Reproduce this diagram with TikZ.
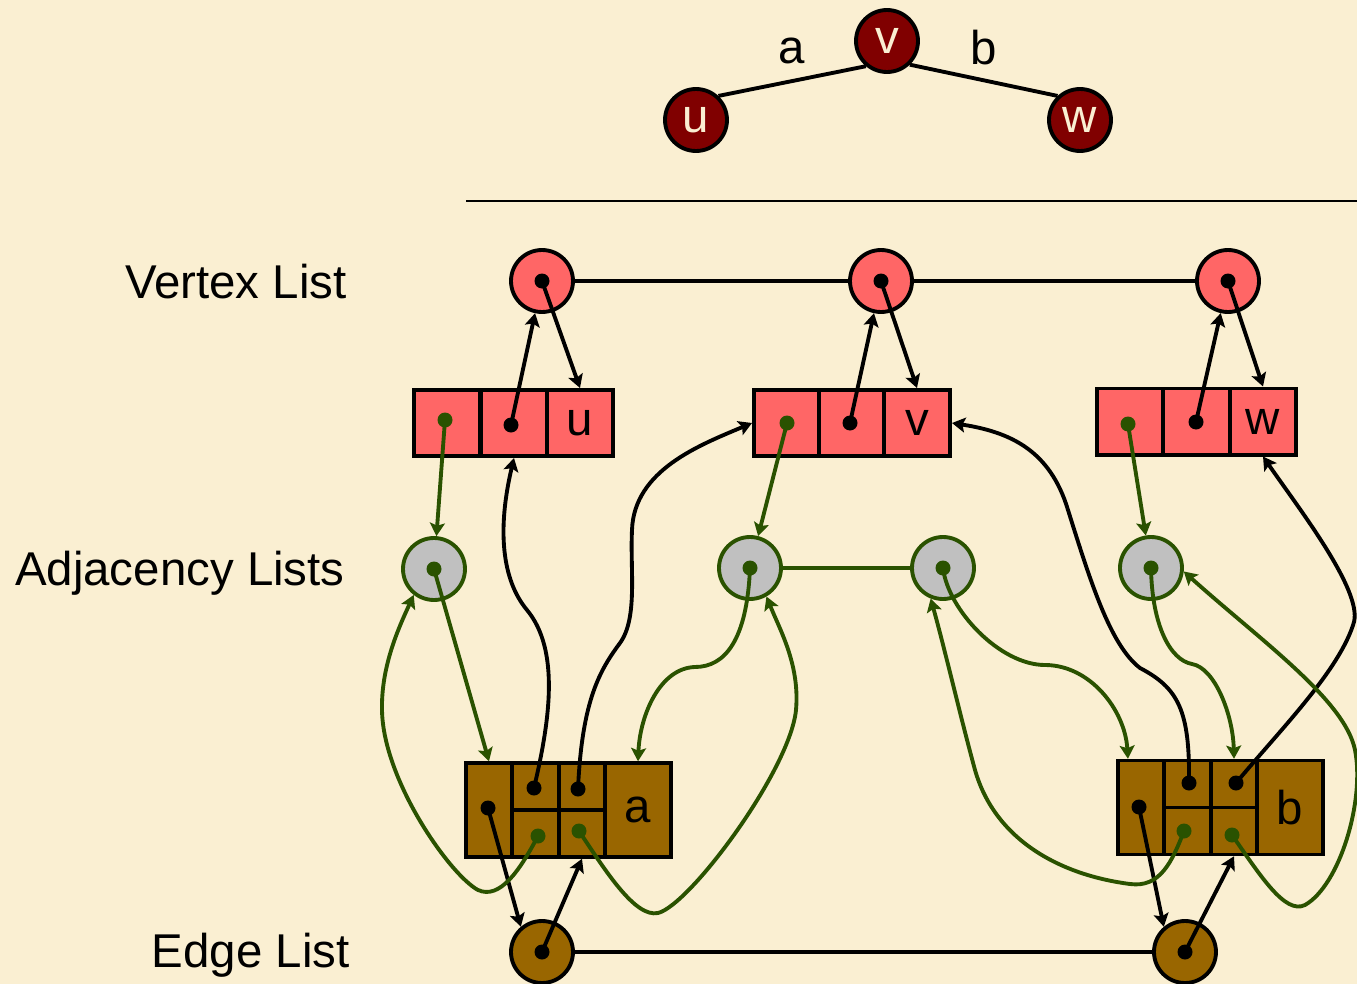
\documentclass[tikz,border=0pt]{standalone}
\usepackage{fontspec}
\setmainfont{Liberation Sans}
\usepackage{xcolor}
\definecolor{BgCream}   {RGB}{250, 239, 210}
\definecolor{VertexRed} {RGB}{255, 102, 102}
\definecolor{DarkRed}   {RGB}{128,   0,   0}
\definecolor{EdgeBrown} {RGB}{153, 102,   0}
\definecolor{AdjGray}   {RGB}{192, 192, 192}
\definecolor{ListGreen} {RGB}{ 42,  82,   0}
\usepackage{tikz}
\usetikzlibrary{arrows.meta}

\begin{document}
\begin{tikzpicture}[
  x=0.02cm, y=-0.02cm,
  font=\fontsize{27}{32}\selectfont,
  gnode/.style={
    circle, draw, line width=2.2pt,
    fill=DarkRed, text=BgCream,
    minimum size=1.24cm, inner sep=0pt},
  vnode/.style={
    circle, draw, line width=2.2pt,
    fill=VertexRed,
    minimum size=1.24cm, inner sep=0pt},
  anode/.style={vnode,
    draw=ListGreen, fill=AdjGray},
  enode/.style={vnode, fill=EdgeBrown},
  vcell/.style={
    draw, line width=2pt, fill=VertexRed,
    minimum width=1.33cm, minimum height=1.33cm,
    inner sep=0pt},
  ecell/.style={
    draw, line width=2pt, fill=EdgeBrown,
    minimum width=0.93cm, minimum height=0.94cm,
    inner sep=0pt},
  etall/.style={ecell, minimum height=1.88cm},
  ename/.style={etall, minimum width=1.32cm},
  bdot/.style={
    circle, fill=black,
    minimum size=0.3cm, inner sep=0pt},
  gdot/.style={bdot, fill=ListGreen},
  title/.style={anchor=base east, inner sep=0pt},
  link/.style={line width=2.2pt},
  ptr/.style={
    -{Stealth[length=7.5pt,width=8.5pt,inset=1.5pt]},
    line width=2.2pt},
  gptr/.style={ptr, ListGreen}
]

\fill[BgCream] (0,0) rectangle (1357,984);
\useasboundingbox (0,0) rectangle (1357,984);

\node[gnode] (tu) at (696,120) {u};
\node[gnode] (tv) at (887,41) {\raisebox{-3pt}{v}};
\node[gnode] (tw) at (1080,120) {w};
\draw[link] (tu.47) -- (tv.230);
\draw[link] (tv.-46) -- (tw.133);
\node (ta) at (792,51) {a};
\node (tb) at (984,48) {b};

\draw[line width=1.2pt] (466,201) -- (1357,201);

\node[title] (tvl) at (347,298) {Vertex List};
\node[title] (tal) at (345,585) {Adjacency Lists};
\node[title] (tel) at (350,967) {Edge List};

\node[vnode] (vu) at (542,281) {};
\node[vnode] (vv) at (881,281) {};
\node[vnode] (vw) at (1228,281) {};
\draw[link] (vu) -- (vv) -- (vw);
\node[bdot] (cu) at (vu) {};
\node[bdot] (cv) at (vv) {};
\node[bdot] (cw) at (vw) {};

\node[vcell] (ru1) at (447,423) {};
\node[vcell] (ru2) at (514,423) {};
\node[vcell] (ru3) at (580,423) {u};
\node[vcell] (rv1) at (787,423) {};
\node[vcell] (rv2) at (852,423) {};
\node[vcell] (rv3) at (917,423) {v};
\node[vcell] (rw1) at (1130,421.5) {};
\node[vcell] (rw2) at (1196.5,421.5) {};
\node[vcell] (rw3) at (1263,421.5) {w};
\node[gdot] (pu1) at (445,420) {};
\node[bdot] (pu2) at (511,425) {};
\node[gdot] (pv1) at (787,423) {};
\node[bdot] (pv2) at (850,423) {};
\node[gdot] (pw1) at (1128,424) {};
\node[bdot] (pw2) at (1196,422) {};

\node[anode] (au) at (434,569) {};
\node[anode] (av1) at (750,568) {};
\node[anode] (av2) at (943,568) {};
\node[anode] (aw) at (1151,568) {};
\draw[link, ListGreen] (av1) -- (av2);
\node[gdot] (du) at (au) {};
\node[gdot] (dv1) at (av1) {};
\node[gdot] (dv2) at (av2) {};
\node[gdot] (dw) at (aw) {};

\node[etall] (ea0) at (489,810) {};
\node[ecell] (ea1t) at (535.5,786.5) {};
\node[ecell] (ea1b) at (535.5,833.5) {};
\node[ecell] (ea2t) at (582,786.5) {};
\node[ecell] (ea2b) at (582,833.5) {};
\node[ename] (ea3) at (638,810) {a};
\node[bdot] (qa0) at (488,808) {};
\node[bdot] (qa1) at (534,788) {};
\node[bdot] (qa2) at (578,789) {};
\node[gdot] (ga1) at (538,836) {};
\node[gdot] (ga2) at (579,831) {};

\node[etall] (eb0) at (1141,807.5) {};
\node[ecell] (eb1t) at (1187.5,784) {};
\node[ecell] (eb1b) at (1187.5,831) {};
\node[ecell] (eb2t) at (1234,784) {};
\node[ecell] (eb2b) at (1234,831) {};
\node[ename] (eb3) at (1290,807.5) {b};
\node[bdot] (qb0) at (1139,807) {};
\node[bdot] (qb1) at (1189,783) {};
\node[bdot] (qb2) at (1236,783) {};
\node[gdot] (gb1) at (1184,831) {};
\node[gdot] (gb2) at (1232,835) {};

\node[enode] (ela) at (542,952) {};
\node[enode] (elb) at (1185,952) {};
\draw[link] (ela) -- (elb);
\node[bdot] (ca) at (ela) {};
\node[bdot] (cb) at (elb) {};

\draw[ptr] (pu2.center) -- (vu);
\draw[ptr] (cu.center) -- (ru3.north);
\draw[ptr] (pv2.center) -- (vv);
\draw[ptr] (cv.center) -- (rv3.north);
\draw[ptr] (pw2.center) -- (vw);
\draw[ptr] (cw.center) -- (rw3.north);

\draw[gptr] (pu1.center) -- (au);
\draw[gptr] (pv1.center) -- (av1);
\draw[gptr] (pw1.center) -- (aw);

\draw[ptr] (qa0.center) -- (ela.130);
\draw[ptr] (ca.center) -- (ea2b.south);
\draw[ptr] (qb0.center) -- (elb.130);
\draw[ptr] (cb.center) -- (eb2b.south);

\draw[ptr] (qa1.center) .. controls (550,720) and (560,650) .. (527,610)
  .. controls (502,580) and (497,530) .. (ru2.south);
\draw[ptr] (qa2.center) .. controls (582,700) and (600,670) .. (620,643)
  .. controls (638,618) and (630,570) .. (632,530)
  .. controls (634,470) and (700,445) .. (rv1.west);
\draw[ptr] (qb1.center) .. controls (1190,710) and (1178,688) .. (1140,668)
  .. controls (1110,645) and (1090,580) .. (1068,510)
  .. controls (1050,450) and (1010,432) .. (rv3.east);
\draw[ptr] (qb2.center) .. controls (1280,730) and (1340,670) .. (1354,622)
  .. controls (1362,590) and (1300,510) .. (rw3.south);

\draw[gptr] (du.center) -- (ea0.north);
\draw[gptr] (dv1.center) .. controls (747,640) and (725,667) .. (695,667)
  .. controls (660,668) and (640,715) .. (ea3.north);
\draw[gptr] (dv2.center) .. controls (948,610) and (1000,665) .. (1045,665)
  .. controls (1090,665) and (1125,710) .. (eb0.105);
\draw[gptr] (dw.center) .. controls (1152,625) and (1170,660) .. (1192,664)
  .. controls (1215,668) and (1233,715) .. (eb2t.north);

\draw[gptr] (ga1.center) .. controls (520,870) and (500,900) .. (478,890)
  .. controls (450,875) and (383,780) .. (382,710)
  .. controls (381,665) and (400,625) .. (au.232);
\draw[gptr] (ga2.center) .. controls (605,870) and (635,918) .. (658,913)
  .. controls (690,905) and (790,770) .. (796,710)
  .. controls (800,665) and (780,630) .. (av1.300);
\draw[gptr] (gb1.center) .. controls (1172,862) and (1160,888) .. (1130,884)
  .. controls (1060,875) and (995,840) .. (975,770)
  .. controls (960,715) and (945,650) .. (av2.248);
\draw[gptr] (gb2.center) .. controls (1260,875) and (1285,915) .. (1305,905)
  .. controls (1340,885) and (1365,800) .. (1355,750)
  .. controls (1345,700) and (1260,640) .. (aw.354);

\end{tikzpicture}
\end{document}
